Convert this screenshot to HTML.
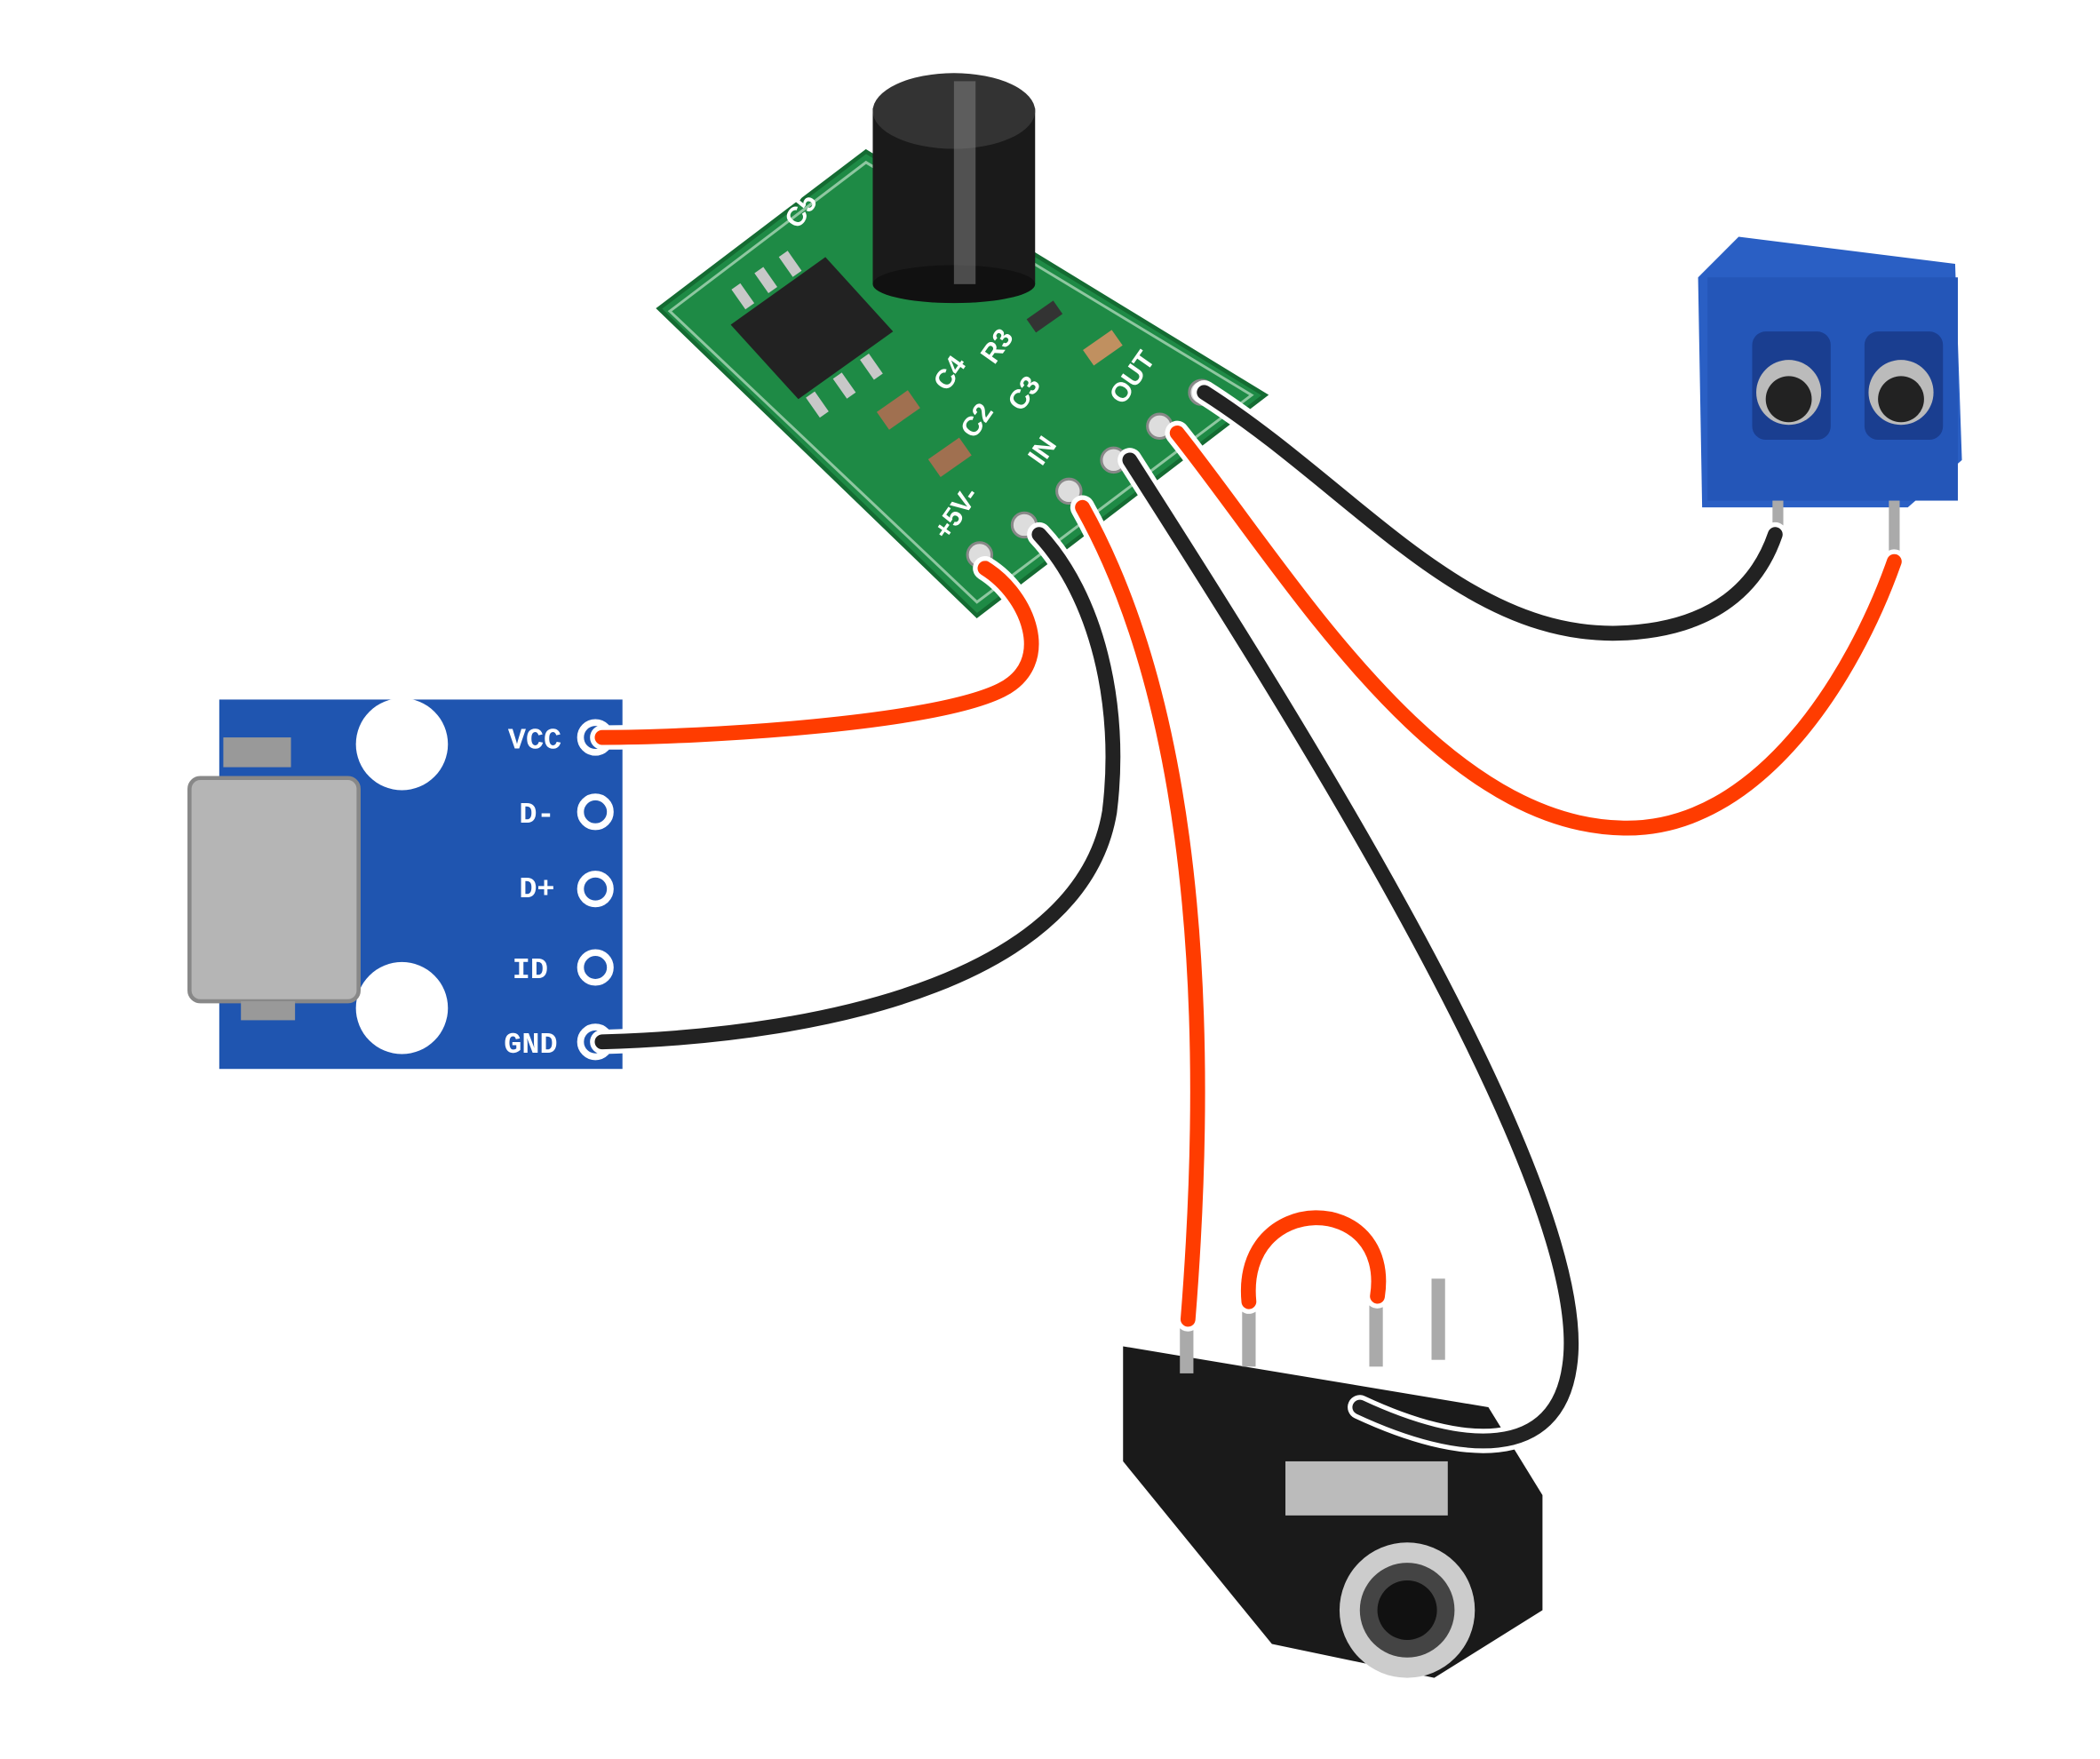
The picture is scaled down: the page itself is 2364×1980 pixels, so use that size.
<!DOCTYPE html>
<html><head><meta charset="utf-8"><style>html,body{margin:0;padding:0;background:#fff}svg{display:block}</style></head>
<body>
<svg width="2364" height="1980" viewBox="0 0 1552 1300" xmlns="http://www.w3.org/2000/svg">
<rect width="1552" height="1300" fill="#fff"/>
<!-- Green PCB -->
<polygon points="487,228 640,112 935,292 722,455" fill="#1e8a45" stroke="#146b32" stroke-width="3"/>
<polygon points="495,230 640,120 925,292 722,445" fill="none" stroke="#d9f0dd" stroke-width="2" opacity="0.6"/>
<!-- chip -->
<polygon points="540,240 610,190 660,245 590,295" fill="#222"/>
<g fill="#c8c8c8"><rect x="545" y="210" width="8" height="18" transform="rotate(-35 549 219)"/><rect x="562" y="198" width="8" height="18" transform="rotate(-35 566 207)"/><rect x="580" y="186" width="8" height="18" transform="rotate(-35 584 195)"/><rect x="600" y="290" width="8" height="18" transform="rotate(-35 604 299)"/><rect x="620" y="276" width="8" height="18" transform="rotate(-35 624 285)"/><rect x="640" y="262" width="8" height="18" transform="rotate(-35 644 271)"/></g>
<!-- small components -->
<rect x="650" y="295" width="28" height="16" fill="#a07050" transform="rotate(-35 664 303)"/>
<rect x="688" y="330" width="28" height="16" fill="#a07050" transform="rotate(-35 702 338)"/>
<rect x="760" y="228" width="24" height="12" fill="#333" transform="rotate(-35 772 234)"/>
<rect x="802" y="250" width="26" height="14" fill="#c09060" transform="rotate(-35 815 257)"/>
<g fill="#fff" font-family="Liberation Sans, sans-serif" font-size="20" font-weight="bold">
<text x="700" y="400" transform="rotate(-55 700 400)">+5V-</text>
<text x="770" y="345" transform="rotate(-55 770 345)">IN</text>
<text x="830" y="300" transform="rotate(-55 830 300)">OUT</text>
<text x="700" y="290" transform="rotate(-55 700 290)">C4</text>
<text x="720" y="325" transform="rotate(-55 720 325)">C2</text>
<text x="755" y="305" transform="rotate(-55 755 305)">C3</text>
<text x="735" y="270" transform="rotate(-55 735 270)">R3</text>
<text x="590" y="170" transform="rotate(-55 590 170)">C5</text>
</g>
<g fill="#ddd" stroke="#888" stroke-width="2">
<circle cx="724" cy="410" r="9"/><circle cx="757" cy="388" r="9"/><circle cx="790" cy="363" r="9"/><circle cx="823" cy="340" r="9"/><circle cx="857" cy="315" r="9"/><circle cx="888" cy="290" r="9"/>
</g>
<!-- capacitor -->
<rect x="645" y="80" width="120" height="130" fill="#1a1a1a"/>
<ellipse cx="705" cy="210" rx="60" ry="14" fill="#111"/>
<ellipse cx="705" cy="82" rx="60" ry="28" fill="#333"/>
<rect x="705" y="60" width="16" height="150" fill="#888" opacity="0.5"/>
<!-- Blue terminal block -->
<polygon points="1255,205 1285,175 1445,195 1450,340 1410,375 1258,375" fill="#2a5fc4"/>
<rect x="1262" y="205" width="185" height="165" fill="#2456b8"/>
<rect x="1295" y="245" width="58" height="80" rx="10" fill="#1a3e90"/>
<rect x="1378" y="245" width="58" height="80" rx="10" fill="#1a3e90"/>
<circle cx="1322" cy="290" r="24" fill="#bbb"/><circle cx="1322" cy="295" r="17" fill="#222"/>
<circle cx="1405" cy="290" r="24" fill="#bbb"/><circle cx="1405" cy="295" r="17" fill="#222"/>
<rect x="1310" y="370" width="8" height="30" fill="#aaa"/>
<rect x="1396" y="370" width="8" height="40" fill="#aaa"/>
<!-- USB breakout -->
<rect x="162" y="517" width="298" height="273" fill="#1f55b0"/>
<circle cx="297" cy="550" r="34" fill="#fff"/>
<circle cx="297" cy="745" r="34" fill="#fff"/>
<rect x="140" y="575" width="125" height="165" rx="8" fill="#b5b5b5" stroke="#888" stroke-width="3"/>
<rect x="165" y="545" width="50" height="22" fill="#999"/>
<rect x="178" y="740" width="40" height="14" fill="#999"/>
<g fill="#fff" font-family="Liberation Mono, monospace" font-size="22" font-weight="bold" text-anchor="end">
<text x="415" y="553">VCC</text><text x="410" y="608">D-</text><text x="410" y="663">D+</text><text x="405" y="723">ID</text><text x="412" y="778">GND</text>
</g>
<g fill="#1f55b0" stroke="#fff" stroke-width="5">
<circle cx="440" cy="545" r="11"/><circle cx="440" cy="600" r="11"/><circle cx="440" cy="657" r="11"/><circle cx="440" cy="715" r="11"/><circle cx="440" cy="770" r="11"/>
</g>
<!-- Audio jack -->
<polygon points="830,995 1100,1040 1140,1105 1140,1190 1060,1240 940,1215 830,1080" fill="#1a1a1a"/>
<rect x="950" y="1080" width="120" height="40" fill="#bbb"/>
<circle cx="1040" cy="1190" r="50" fill="#ccc"/>
<circle cx="1040" cy="1190" r="35" fill="#444"/>
<circle cx="1040" cy="1190" r="22" fill="#111"/>
<rect x="872" y="975" width="10" height="40" fill="#aaa"/>
<rect x="918" y="960" width="10" height="50" fill="#aaa"/>
<rect x="1012" y="955" width="10" height="55" fill="#aaa"/>
<rect x="1058" y="945" width="10" height="60" fill="#aaa"/>
<!-- wires -->
<g fill="none" stroke-linecap="round">
<g stroke="#fff" stroke-width="18">
<path d="M728,420 C760,440 780,490 740,510 C690,535 520,545 445,545"/>
<path d="M768,395 C810,440 830,520 820,600 C800,720 620,765 445,770"/>
<path d="M800,375 C870,500 900,700 878,975"/>
<path d="M835,340 C950,520 1180,880 1160,1010 C1150,1080 1080,1075 1005,1040"/>
<path d="M870,320 C950,420 1060,610 1200,612 C1300,614 1370,500 1400,415"/>
<path d="M890,290 C1000,360 1080,470 1195,468 C1270,466 1300,430 1312,395"/>
<path d="M923,962 C915,880 1030,880 1018,958"/>
</g>
<g stroke-width="11">
<path stroke="#ff3c00" d="M728,420 C760,440 780,490 740,510 C690,535 520,545 445,545"/>
<path stroke="#222" d="M768,395 C810,440 830,520 820,600 C800,720 620,765 445,770"/>
<path stroke="#ff3c00" d="M800,375 C870,500 900,700 878,975"/>
<path stroke="#222" d="M835,340 C950,520 1180,880 1160,1010 C1150,1080 1080,1075 1005,1040"/>
<path stroke="#ff3c00" d="M870,320 C950,420 1060,610 1200,612 C1300,614 1370,500 1400,415"/>
<path stroke="#222" d="M890,290 C1000,360 1080,470 1195,468 C1270,466 1300,430 1312,395"/>
<path stroke="#ff3c00" d="M923,962 C915,880 1030,880 1018,958"/>
</g>
</g>
</svg>
</body></html>
